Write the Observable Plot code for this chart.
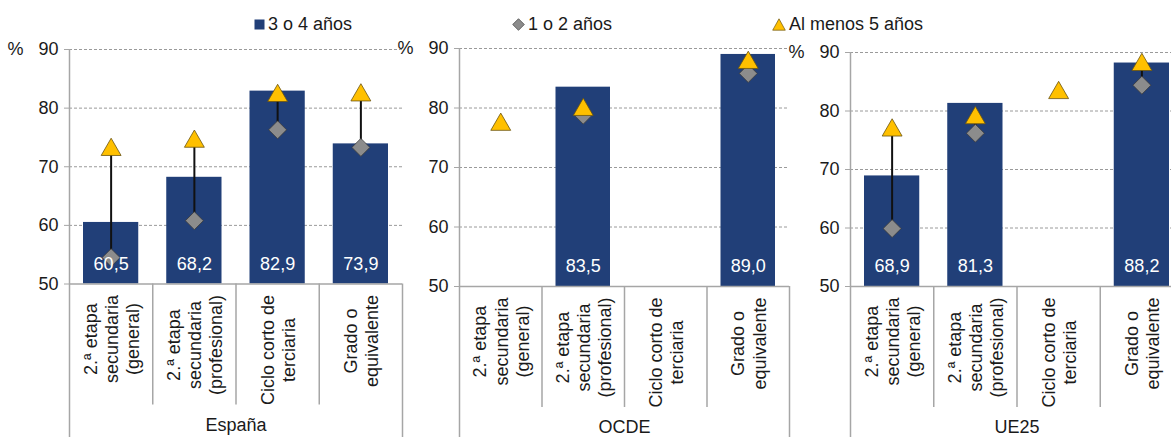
<!DOCTYPE html>
<html><head><meta charset="utf-8">
<script src="https://cdn.jsdelivr.net/npm/d3@7"></script>
<script src="https://cdn.jsdelivr.net/npm/@observablehq/plot@0.6"></script>
<style>
html,body{margin:0;padding:0;background:#fff;overflow:hidden;width:1171px;height:437px;}
#wrap{position:relative;width:1171px;height:437px;overflow:hidden;font-family:"Liberation Sans",Arial,sans-serif;color:#1a1a1a;background:#fff;}
.panel{position:absolute;top:0;}
.leg{position:absolute;top:13px;font-size:18px;line-height:22px;display:flex;align-items:center;white-space:nowrap;}
.leg svg{margin-right:3px;}
</style></head><body><div id="wrap"></div>
<script>
// ---- data ----
const categories = ["2.ª etapa\nsecundaria\n(general)", "2.ª etapa\nsecundaria\n(profesional)", "Ciclo corto de\nterciaria", "Grado o\nequivalente"];
const regions = ["España", "OCDE", "UE25"];
const seriesNames = ["3 o 4 años", "1 o 2 años", "Al menos 5 años"];
const yTicks = [50, 60, 70, 80, 90];

const espana3a4 = [60.5, 68.2, 82.9, 73.9];
const espana1a2 = [54.5, 60.8, 76.3, 73.3];
const espana5   = [73.4, 74.8, 82.6, 82.7];

const ocde3a4 = [null, 83.5, null, 89.0];
const ocde1a2 = [null, 78.8, null, 85.8];
const ocde5   = [77.7, 80.2, null, 88.1];

const ue253a4 = [68.9, 81.3, null, 88.2];
const ue251a2 = [59.9, 76.2, null, 84.4];
const ue255   = [77.2, 79.3, 83.6, 88.4];

// ---- style ----
const barColor = "#213F78", triFill = "#FFC000", triStroke = "#6b5410", diaFill = "#8C8C8C", diaStroke = "#3a3a3a";
const gray = "#a6a6a6", txt = "#1a1a1a", font = "Liberation Sans, Arial, sans-serif";

const panels = [
  {name: regions[0], v34: espana3a4, v12: espana1a2, v5: espana5, left: 0,   width: 407, marginRight: 5, marginTop: 49, marginBottom: 153.5},
  {name: regions[1], v34: ocde3a4,   v12: ocde1a2,   v5: ocde5,   left: 390, width: 404, marginRight: 5, marginTop: 48, marginBottom: 151},
  {name: regions[2], v34: ue253a4,   v12: ue251a2,   v5: ue255,   left: 781, width: 402, marginRight: 0, marginTop: 52, marginBottom: 151}
];

const wrap = document.getElementById("wrap");
const ctx = document.createElement("canvas").getContext("2d");
ctx.font = "18px 'Liberation Sans'";
const fmt = v => d3.format(".1f")(v).replace(".", ",");

for (const p of panels) {
  const rows = categories.map((c, i) => ({i, cat: c, b: p.v34[i], d: p.v12[i], t: p.v5[i]}));
  const labelMarks = rows.map(r => {
    const maxW = d3.max(r.cat.split("\n"), s => ctx.measureText(s).width);
    return Plot.text([r], {x: d => d.i + 0.5, frameAnchor: "bottom", text: "cat", rotate: -90, textAnchor: "middle",
      lineAnchor: "middle", lineHeight: 1.17, fontSize: 18, fill: txt, dy: 11 + maxW / 2});
  });
  const chart = Plot.plot({
    width: p.width, height: 437,
    marginLeft: 69, marginRight: p.marginRight, marginTop: p.marginTop, marginBottom: p.marginBottom,
    style: {background: "transparent", overflow: "visible", fontFamily: font, maxWidth: "none"},
    x: {type: "linear", domain: [0, categories.length], axis: null},
    y: {domain: [yTicks[0], yTicks[yTicks.length - 1]], axis: null},
    marks: [
      Plot.ruleY(yTicks.slice(1), {stroke: "#9a9a9a", strokeDasharray: "3,2", strokeWidth: 1}),
      Plot.rectY(rows.filter(r => r.b != null), {x1: "i", x2: d => d.i + 1, y1: yTicks[0], y2: "b", insetLeft: 14, insetRight: 14, fill: barColor}),
      Plot.ruleX(rows.filter(r => r.d != null && r.t != null), {x: d => d.i + 0.5, y1: "d", y2: "t", stroke: "#111", strokeWidth: 2}),
      Plot.dot(rows.filter(r => r.d != null), {x: d => d.i + 0.5, y: "d", symbol: "diamond2", r: 8.1, fill: diaFill, stroke: diaStroke, strokeWidth: 0.8}),
      Plot.dot(rows.filter(r => r.t != null), {x: d => d.i + 0.5, y: "t", symbol: "triangle", r: 7.4, dy: 2.9, fill: triFill, stroke: triStroke, strokeWidth: 0.8}),
      Plot.text(rows.filter(r => r.b != null), {x: d => d.i + 0.5, frameAnchor: "bottom", lineAnchor: "middle", dy: -20, text: d => fmt(d.b), fill: "white", fontSize: 18}),
      // axes
      Plot.ruleY([yTicks[0]], {stroke: gray, strokeWidth: 1.5}),
      Plot.ruleX([0], {y1: yTicks[yTicks.length - 1], y2: yTicks[0], insetBottom: -160, stroke: gray, strokeWidth: 1.5}),
      Plot.ruleX([categories.length], {y1: yTicks[0], y2: yTicks[0], insetBottom: -160, stroke: gray, strokeWidth: 1.5}),
      Plot.ruleX(d3.range(1, categories.length), {y1: yTicks[0], y2: yTicks[0], insetBottom: -121, stroke: gray, strokeWidth: 1.5}),
      Plot.axisY(yTicks, {tickSize: 5, tickPadding: 6, fontSize: 18, stroke: gray, fill: txt}),
      Plot.text(["%"], {frameAnchor: "top-left", lineAnchor: "middle", dx: -46, textAnchor: "end", fontSize: 18, fill: txt}),
      ...labelMarks,
      Plot.text([p.name], {frameAnchor: "bottom", lineAnchor: "middle", dy: 141, fontSize: 18, fill: txt})
    ]
  });
  const div = document.createElement("div");
  div.className = "panel";
  div.style.left = p.left + "px";
  div.appendChild(chart);
  wrap.appendChild(div);
}

// ---- legend ----
const legendItems = [
  {label: seriesNames[0], left: 254, svg: `<svg width="11" height="11"><rect x="0.5" y="0.5" width="10" height="10" fill="${barColor}"/></svg>`},
  {label: seriesNames[1], left: 512, svg: `<svg width="13" height="13"><path d="M6.5 0.7 L12.3 6.5 L6.5 12.3 L0.7 6.5 Z" fill="${diaFill}" stroke="${diaStroke}" stroke-width="0.7"/></svg>`},
  {label: seriesNames[2], left: 772, svg: `<svg width="14" height="13"><path d="M7 0.8 L13.3 12.2 L0.7 12.2 Z" fill="${triFill}" stroke="${triStroke}" stroke-width="0.7"/></svg>`}
];
for (const it of legendItems) {
  const el = document.createElement("div");
  el.className = "leg";
  el.style.left = it.left + "px";
  el.innerHTML = it.svg + "<span>" + it.label + "</span>";
  wrap.appendChild(el);
}
</script>
</body></html>
